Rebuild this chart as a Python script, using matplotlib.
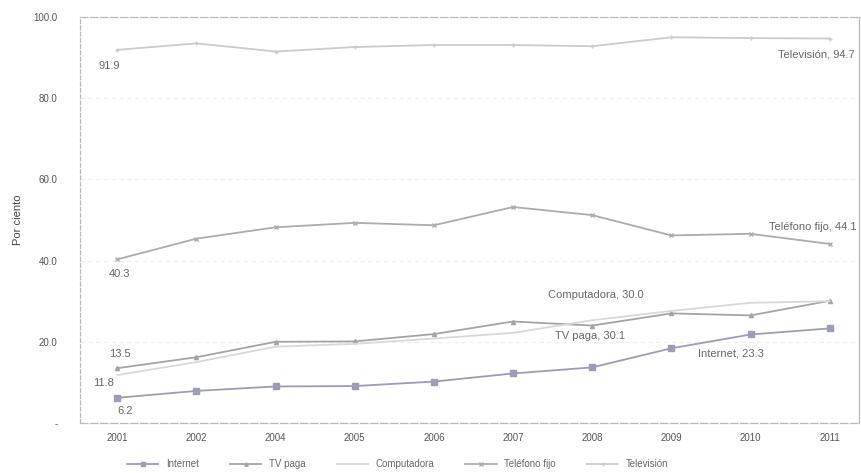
import numpy as np
import matplotlib
matplotlib.use("Agg")
import matplotlib.pyplot as plt
from matplotlib.ticker import FixedLocator

plt.rcParams['font.family'] = ['Liberation Sans', 'DejaVu Sans']

# data
years = ["2001", "2002", "2004", "2005", "2006", "2007", "2008", "2009", "2010", "2011"]
internet = [6.2, 7.9, 9.0, 9.1, 10.2, 12.2, 13.7, 18.4, 21.8, 23.3]
tv_paga = [13.5, 16.2, 20.0, 20.1, 21.9, 25.0, 24.0, 27.0, 26.5, 30.1]
computadora = [11.8, 15.0, 18.8, 19.5, 20.8, 22.2, 25.3, 27.6, 29.6, 30.0]
telefono = [40.3, 45.4, 48.2, 49.3, 48.7, 53.2, 51.2, 46.2, 46.6, 44.1]
television = [91.9, 93.5, 91.5, 92.6, 93.1, 93.1, 92.8, 95.0, 94.8, 94.7]

series_names = ["Internet", "TV paga", "Computadora", "Teléfono fijo", "Televisión"]
series_vals = [internet, tv_paga, computadora, telefono, television]
colors = ["#9c9cb4", "#a4a4a4", "#d8d8d8", "#acacac", "#cbcbcb"]
markers = ["s", "^", "", "x", "+"]
msizes = [4, 3, 0, 3, 3]

fig = plt.figure(figsize=(8.61, 4.73), dpi=100)
ax = fig.add_axes([80 / 861, 1 - 423 / 473, 779 / 861, 406 / 473])

x = np.arange(len(years))
for name, vals, c, m, ms in zip(series_names, series_vals, colors, markers, msizes):
    ax.plot(x, vals, color=c, lw=1.3, marker=m if m else None, ms=ms,
            mec=c, mfc=c, label=name)

ax.set_xlim(-0.47, 9.37)
ax.set_ylim(0, 100)
ax.set_xticks(x)
ax.set_xticklabels(years, fontsize=7, color="#555555")
ax.yaxis.set_major_locator(FixedLocator([0, 20, 40, 60, 80, 100]))
ax.set_yticklabels(["-", "20.0", "40.0", "60.0", "80.0", "100.0"], fontsize=7, color="#555555")
ax.tick_params(axis="y", length=0, pad=16)
ax.tick_params(axis="x", length=0, pad=7)
ax.set_ylabel("Por ciento", fontsize=8, color="#444444", labelpad=8)

# faint gridlines like the scan
for v in [20, 40, 60, 80]:
    ax.axhline(v, color="#eeeeee", lw=0.8, ls=(0, (4, 3)), zorder=0)

for side in ["left", "bottom", "top", "right"]:
    ax.spines[side].set_color("#b8b8b8")
    ax.spines[side].set_linewidth(0.9)
ax.spines["top"].set_linestyle((0, (6, 2)))
ax.spines["bottom"].set_linestyle((0, (6, 2)))
ax.spines["left"].set_linestyle((0, (3, 2)))

lab = dict(fontsize=8, color="#666666")
ax.annotate(f"{television[0]:.1f}", (x[0], television[0]), xytext=(-6, -14),
            textcoords="offset points", ha="center", **lab)
ax.annotate(f"Televisión, {television[-1]:.1f}", (x[-1], television[-1]), xytext=(18, -14),
            textcoords="offset points", ha="right", **lab)
ax.annotate(f"{telefono[0]:.1f}", (x[0], telefono[0]), xytext=(2, -13),
            textcoords="offset points", ha="center", **lab)
ax.annotate(f"Teléfono fijo, {telefono[-1]:.1f}", (x[-1], telefono[-1]), xytext=(19, 10),
            textcoords="offset points", ha="right", **lab)
ax.annotate(f"{tv_paga[0]:.1f}", (x[0], tv_paga[0]), xytext=(2, 8),
            textcoords="offset points", ha="center", **lab)
ax.annotate(f"{computadora[0]:.1f}", (x[0], computadora[0]), xytext=(-10, -8),
            textcoords="offset points", ha="center", **lab)
ax.annotate(f"{internet[0]:.1f}", (x[0], internet[0]), xytext=(6, -12),
            textcoords="offset points", ha="center", **lab)
ax.annotate(f"Computadora, {computadora[-1]:.1f}", (x[6], computadora[6]), xytext=(-32, 16),
            textcoords="offset points", ha="left", **lab)
ax.annotate(f"TV paga, {tv_paga[-1]:.1f}", (x[6], tv_paga[6]), xytext=(-27, -10),
            textcoords="offset points", ha="left", **lab)
ax.annotate(f"Internet, {internet[-1]:.1f}", (x[8], internet[8]), xytext=(-38, -16),
            textcoords="offset points", ha="left", **lab)

fig.legend(loc="center", bbox_to_anchor=(0.462, 0.018), ncol=5, frameon=False,
           fontsize=7, handlelength=3.2, columnspacing=3.2, labelcolor="#666666",
           markerscale=0.8)

fig.savefig("out.png", dpi=100, facecolor="white")
